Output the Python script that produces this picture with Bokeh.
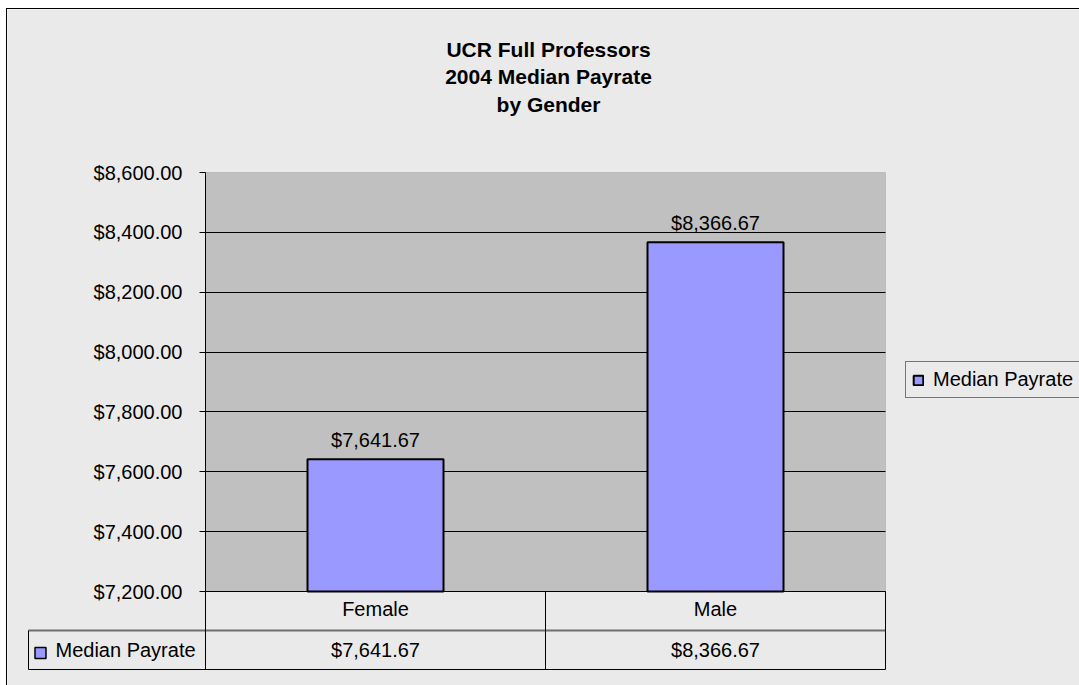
from bokeh.plotting import figure
from bokeh.models import (Range1d, LinearAxis, FixedTicker, NumeralTickFormatter,
                          BoxAnnotation, Grid, Label, Legend, LegendItem, ColumnDataSource)
from bokeh.layouts import column
from bokeh.embed import file_html
from bokeh.resources import INLINE
from bokeh.core.properties import value

# ---------------- data ----------------
categories = ["Female", "Male"]
median_payrate = [7641.67, 8366.67]
series_name = "Median Payrate"
y_ticks = [7200, 7400, 7600, 7800, 8000, 8200, 8400, 8600]
title_lines = ["UCR Full Professors", "2004 Median Payrate", "by Gender"]


def money(v):
    return "${:,.2f}".format(v)


value_labels = [money(v) for v in median_payrate]

# ---------------- style / layout ----------------
FONT = "Liberation Sans"
FS = "20px"
BG = "#EAEAEA"
PLOT_BG = "#C0C0C0"
BAR = "#9999FF"

MARGIN_L, MARGIN_T = 6, 8       # outer chart border position on the page
FIG_X0, FIG_Y0 = MARGIN_L + 1, MARGIN_T + 1
FIG_W, FIG_H = 1079 - FIG_X0, 685 - FIG_Y0
PLOT_L, PLOT_R, PLOT_T, PLOT_B = 205, 885, 172, 591
TABLE_LEFT_PX, ROW_H = 28, 39
n = len(categories)
ux = (PLOT_R - PLOT_L) / n
y_min, y_max = y_ticks[0], y_ticks[-1]
uy = (PLOT_B - PLOT_T) / (y_max - y_min)
fig_right = FIG_X0 + FIG_W
fig_bottom = FIG_Y0 + FIG_H
table_bottom_px = PLOT_B + 2 * ROW_H

x_range = Range1d((FIG_X0 - PLOT_L) / ux, (fig_right - PLOT_L) / ux)
y_range = Range1d(y_min - (fig_bottom - PLOT_B) / uy, y_max + (PLOT_T - FIG_Y0) / uy)
table_range = Range1d(-(fig_bottom - table_bottom_px) / ROW_H, 2 + (PLOT_B - FIG_Y0) / ROW_H)

p = figure(width=FIG_W, height=FIG_H, x_range=x_range, y_range=y_range,
           x_axis_location=None, y_axis_location=None, toolbar_location=None,
           output_backend="svg", min_border=0, min_border_left=0, min_border_right=0,
           min_border_top=0, min_border_bottom=0,
           background_fill_color=BG, border_fill_color=BG, outline_line_color=None)
p.extra_y_ranges = {"table": table_range}
p.xgrid.visible = False
p.ygrid.visible = False

# plot area
area = BoxAnnotation(left=0, right=n, bottom=y_min, top=y_max, fill_color=PLOT_BG, fill_alpha=1,
                     line_color="#808080", line_width=1, level="image")
p.add_layout(area)

grid = Grid(dimension=1, ticker=FixedTicker(ticks=y_ticks[:-1]), cross_bounds=(0, n),
            grid_line_color="black", grid_line_width=1)
p.add_layout(grid, "center")

yaxis = LinearAxis(fixed_location=0, bounds=(y_min, y_max), ticker=FixedTicker(ticks=y_ticks),
                   formatter=NumeralTickFormatter(format="$0,0.00"))
yaxis.axis_line_color = "black"
yaxis.major_tick_line_color = "black"
yaxis.major_tick_out = 6
yaxis.major_tick_in = 0
yaxis.minor_tick_out = 0
yaxis.minor_tick_in = 0
yaxis.major_label_standoff = 17
yaxis.major_label_text_font = FONT
yaxis.major_label_text_font_size = FS
yaxis.major_label_text_color = "black"
p.add_layout(yaxis, "left")

xs = [i + 0.5 for i in range(n)]
src = ColumnDataSource(dict(x=xs, cat=categories, val=median_payrate, lbl=value_labels,
                            cat_y=[1.5] * n, val_y=[0.5] * n))

bars = p.vbar(x="x", top="val", bottom=y_min, width=0.4, source=src,
              fill_color=BAR, line_color="black", line_width=2)
p.text(x="x", y="val", text="lbl", source=src, y_offset=-19, text_align="center",
       text_baseline="alphabetic", text_font=value(FONT), text_font_size=FS, text_color="black")

# ---------------- data table ----------------
tl = -(PLOT_L - TABLE_LEFT_PX) / ux
p.segment(x0=[0, tl, tl, tl, 0, 1, 2], y0=[2, 1, 0, 0, 0, 0, 0],
          x1=[n, n, n, tl, 0, 1, 2], y1=[2, 1, 0, 1, 2, 2, 2],
          y_range_name="table", line_color=["black", "#6E6E6E", "black", "black", "black", "black", "black"],
          line_width=[1, 2, 1, 1, 1, 1, 1])
p.text(x="x", y="cat_y", text="cat", source=src, y_range_name="table", text_align="center",
       text_baseline="middle", y_offset=-2, text_font=value(FONT), text_font_size=FS, text_color="black")
p.text(x="x", y="val_y", text="lbl", source=src, y_range_name="table", text_align="center",
       text_baseline="middle", text_font=value(FONT), text_font_size=FS, text_color="black")
p.rect(x=[tl + 12 / ux], y=[0.5 - 3 / ROW_H], width=11, height=11, width_units="screen",
       height_units="screen", y_range_name="table", fill_color=BAR, line_color="black", line_width=1.5)
p.text(x=[tl + 27 / ux], y=[0.5], text=[series_name], y_range_name="table", text_align="left",
       text_baseline="middle", text_font=value(FONT), text_font_size=FS, text_color="black")

# ---------------- title ----------------
for line, base in zip(title_lines, [48.7, 76.3, 104.0]):
    p.add_layout(Label(x=548 - FIG_X0, y=fig_bottom - base, x_units="screen", y_units="screen",
                       text=line, text_align="center", text_baseline="alphabetic",
                       text_font=FONT, text_font_size="21px", text_font_style="bold",
                       text_color="black"))

# ---------------- legend ----------------
legend = Legend(items=[LegendItem(label=series_name, renderers=[bars])],
                location=(905 - FIG_X0, fig_bottom - 398),
                border_line_color="black", border_line_width=1,
                background_fill_color=BG, background_fill_alpha=1,
                padding=6, margin=0, glyph_width=12, glyph_height=12, label_standoff=9,
                label_text_font=FONT, label_text_font_size=FS, label_text_color="black",
                label_width=200)
p.add_layout(legend)

layout = column(p, styles={"border-left": "1px solid black", "border-top": "1px solid black",
                           "margin-left": f"{MARGIN_L}px", "margin-top": f"{MARGIN_T}px"})

open("out.html", "w").write(file_html(layout, INLINE))
